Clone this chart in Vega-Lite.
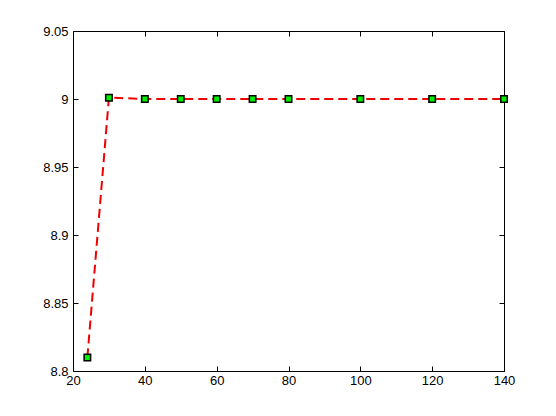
{
  "$schema": "https://vega.github.io/schema/vega-lite/v6.json",
  "width": 431,
  "height": 340,
  "autosize": {"type": "none"},
  "padding": {"left": 73, "top": 31, "right": 52, "bottom": 45},
  "background": "white",
  "config": {
    "view": {"stroke": "black", "strokeWidth": 1},
    "axis": {
      "grid": false,
      "domain": false,
      "tickColor": "black",
      "tickSize": -5,
      "tickWidth": 1,
      "labelFont": "Liberation Sans",
      "labelFontSize": 13,
      "labelColor": "black",
      "labelFlush": false,
      "labelOverlap": false,
      "title": null
    }
  },
  "data": {
    "values": [
      {"x": 24, "y": 8.81},
      {"x": 30, "y": 9.001},
      {"x": 40, "y": 9.0},
      {"x": 50, "y": 9.0},
      {"x": 60, "y": 9.0},
      {"x": 70, "y": 9.0},
      {"x": 80, "y": 9.0},
      {"x": 100, "y": 9.0},
      {"x": 120, "y": 9.0},
      {"x": 140, "y": 9.0}
    ]
  },
  "layer": [
    {
      "mark": {"type": "line", "color": "#ee0000", "strokeWidth": 2, "strokeDash": [9, 5], "clip": false},
      "encoding": {
        "x": {"field": "x", "type": "quantitative", "scale": {"domain": [20, 140], "nice": false, "zero": false}, "axis": {"orient": "bottom", "values": [20, 40, 60, 80, 100, 120, 140], "labelPadding": 8}},
        "y": {"field": "y", "type": "quantitative", "scale": {"domain": [8.8, 9.05], "nice": false, "zero": false}, "axis": {"orient": "left", "values": [8.8, 8.85, 8.9, 8.95, 9, 9.05], "labelExpr": "format(datum.value, '~g')", "labelPadding": 10}}
      }
    },
    {
      "mark": {"type": "square", "size": 42, "filled": true, "color": "#00ee00", "stroke": "black", "strokeWidth": 1.5, "opacity": 1, "clip": false},
      "encoding": {
        "x": {"field": "x", "type": "quantitative", "axis": {"orient": "top", "values": [20, 40, 60, 80, 100, 120, 140], "labels": false}},
        "y": {"field": "y", "type": "quantitative", "axis": {"orient": "right", "values": [8.8, 8.85, 8.9, 8.95, 9, 9.05], "labels": false}}
      }
    }
  ],
  "resolve": {"axis": {"x": "independent", "y": "independent"}}
}
